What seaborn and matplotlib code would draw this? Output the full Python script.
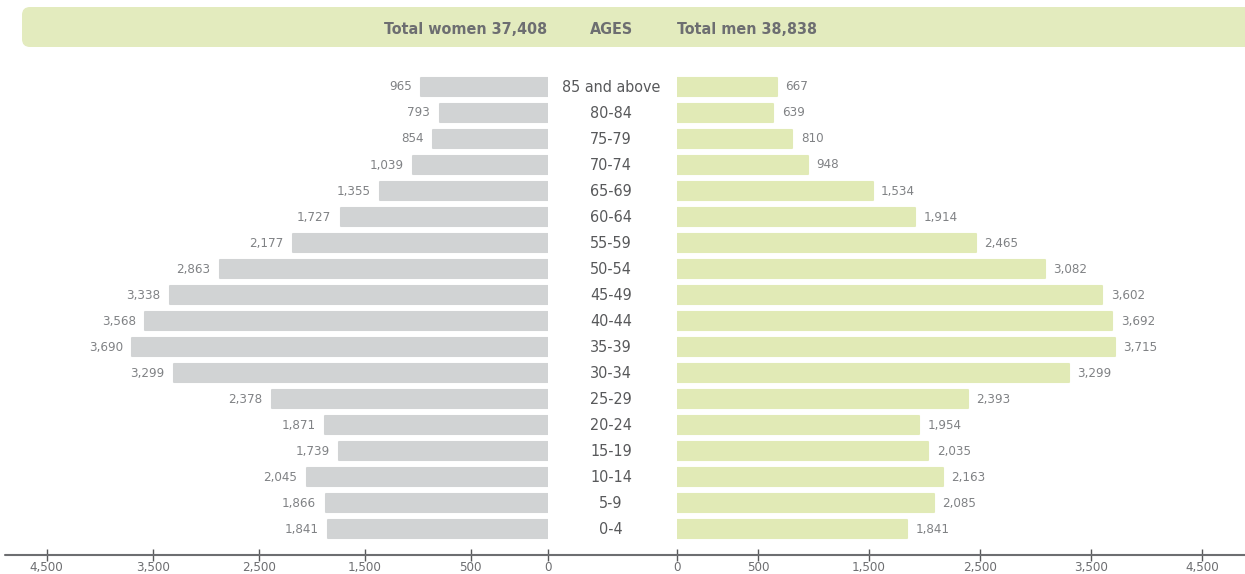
import numpy as np
import pandas as pd
import seaborn as sns
import matplotlib.pyplot as plt
from matplotlib import font_manager
from matplotlib.patches import FancyBboxPatch
from matplotlib.lines import Line2D
from matplotlib.ticker import FixedLocator, StrMethodFormatter
from matplotlib.transforms import blended_transform_factory

ages = ["85 and above", "80-84", "75-79", "70-74", "65-69", "60-64", "55-59",
        "50-54", "45-49", "40-44", "35-39", "30-34", "25-29", "20-24",
        "15-19", "10-14", "5-9", "0-4"]
women = [965, 793, 854, 1039, 1355, 1727, 2177, 2863, 3338, 3568, 3690, 3299,
         2378, 1871, 1739, 2045, 1866, 1841]
men = [667, 639, 810, 948, 1534, 1914, 2465, 3082, 3602, 3692, 3715, 3299,
       2393, 1954, 2035, 2163, 2085, 1841]
total_women = 37408
total_men = 38838
ticks = [0, 500, 1500, 2500, 3500, 4500]

df = pd.DataFrame({"age": ages, "women": women, "men": men})

sns.set_style("white")

# the original uses a condensed face; pick the narrowest one available
entries = font_manager.fontManager.ttflist
names = {f.name for f in entries}
narrow = True
if "Liberation Sans Narrow" in names:
    plt.rcParams["font.family"] = ["Liberation Sans Narrow", "DejaVu Sans"]
elif any(f.name == "DejaVu Sans" and "condensed" in str(f.stretch) for f in entries):
    plt.rcParams["font.family"] = ["DejaVu Sans"]
    plt.rcParams["font.stretch"] = "condensed"
else:
    plt.rcParams["font.family"] = ["Roboto", "DejaVu Sans"]
    narrow = False

sz_small = 9.5 if narrow else 9
sz_big = 11.5 if narrow else 10.5

GREY_BAR = "#d1d3d4"
GREEN_BAR = "#e1eab6"
BAND = "#e3ebbe"
DARK = "#58595b"
MID = "#6d6e71"
LIGHT = "#808285"

# axis leaves a small gap between the 0 tick and the start of the value range
GAP = 230


def fwd(x):
    x = np.asarray(x, dtype=float)
    return np.where(x > 0, x + GAP, x)


def inv(x):
    x = np.asarray(x, dtype=float)
    return np.where(x > GAP, x - GAP, np.where(x > 0, 0, x))


W, H = 1245, 574
fig = plt.figure(figsize=(W / 100, H / 100), dpi=100)
bottom = 1 - 555 / H
height = (555 - 74) / H
axL = fig.add_axes([5 / W, bottom, 543 / W, height])
axR = fig.add_axes([677 / W, bottom, 568 / W, height])

for ax, col, colr, span, slope in [(axL, "women", GREY_BAR, 543, 0.106),
                                   (axR, "men", GREEN_BAR, 568, 0.111)]:
    ax.set_xscale("function", functions=(fwd, inv))
    sns.barplot(data=df, x=col, y="age", order=ages, orient="h", color=colr,
                saturation=1, width=0.7, ax=ax)
    for p in ax.patches:
        p.set_edgecolor(colr)
        p.set_linewidth(1.5)
        p.set_joinstyle("round")
    xmax = span / slope - GAP
    if ax is axL:
        ax.set_xlim(xmax, 0)
    else:
        ax.set_xlim(0, xmax)
    ax.set_ylim(18, -0.5)
    ax.xaxis.set_major_locator(FixedLocator(ticks))
    ax.xaxis.set_major_formatter(StrMethodFormatter("{x:,.0f}"))
    ax.tick_params(axis="x", direction="inout", length=8, width=1, color=DARK,
                   labelsize=sz_small, labelcolor=MID, pad=0, bottom=True)
    ax.set_yticks([])
    ax.set_xlabel("")
    ax.set_ylabel("")
    for s in ax.spines.values():
        s.set_visible(False)
    ax.patch.set_alpha(0)
    ax.bar_label(ax.containers[0], labels=[f"{v:,}" for v in df[col]],
                 padding=7 if ax is axL else 6, fontsize=sz_small, color=LIGHT)

# baseline across the whole width
fig.add_artist(Line2D([5 / W, 1.0], [bottom, bottom], transform=fig.transFigure,
                      color=MID, linewidth=1.5))

# age labels in the middle column
trans = blended_transform_factory(fig.transFigure, axL.transData)
for i, a in enumerate(ages):
    axL.text(611 / W, i, a, transform=trans, ha="center", va="center",
             fontsize=sz_big, color=DARK, clip_on=False)

# header band
band = FancyBboxPatch((0.22, (H - 47) / 100), 12.45, 0.40,
                      boxstyle="round,pad=0,rounding_size=0.08",
                      transform=fig.dpi_scale_trans, facecolor=BAND,
                      edgecolor="none", zorder=0)
fig.patches.append(band)
hy = 1 - 29 / H
fig.text(547 / W, hy, f"Total women {total_women:,}", ha="right", va="center",
         fontsize=sz_big, fontweight="bold", color=MID)
fig.text(611 / W, hy, "AGES", ha="center", va="center",
         fontsize=sz_big, fontweight="bold", color=MID)
fig.text(677 / W, hy, f"Total men {total_men:,}", ha="left", va="center",
         fontsize=sz_big, fontweight="bold", color=MID)

fig.savefig("out.png", dpi=100)
